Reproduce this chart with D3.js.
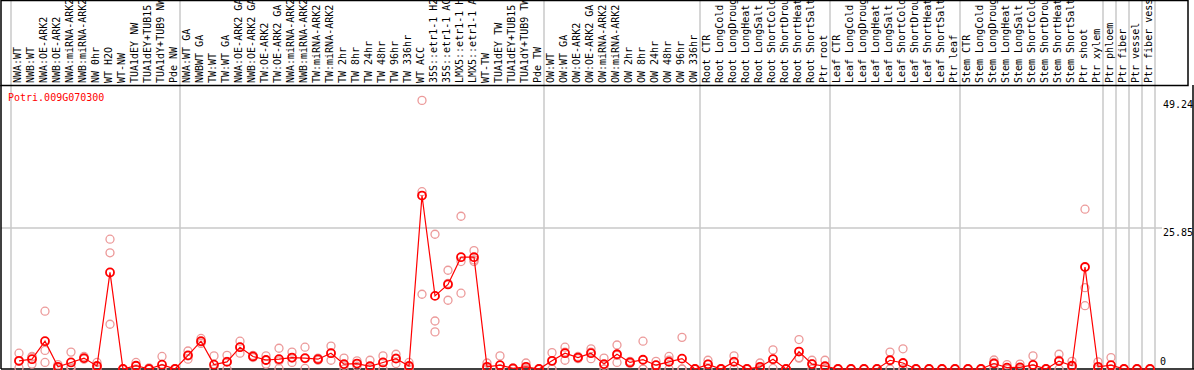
<!DOCTYPE html>
<html>
<head>
<meta charset="utf-8">
<script src="https://cdn.jsdelivr.net/npm/d3@7"></script>
<style>
  html, body { margin: 0; padding: 0; background: #fff; overflow: hidden; }
  svg { display: block; }
  text { font-family: "DejaVu Sans Mono", monospace; font-size: 10px; }
</style>
</head>
<body>
<div class="chart-container"></div>
<script>
// Data: gene, sample labels, groups, values
const geneId = 'Potri.009G070300';

const sampleLabels = [
    'NWA:WT', 'NWB:WT', 'NWA:OE-ARK2', 'NWB:OE-ARK2', 'NWA:miRNA-ARK2', 'NWB:miRNA-ARK2',
    'NW 0hr', 'WT H2O', 'WT-NW', 'TUA1dEY NW', 'TUA1dEY+TUB15', 'TUA1dY+TUB9 NW', 'Pde NW',
    'NWA:WT GA', 'NWBWT GA', 'TW:WT', 'TW:WT GA', 'NWA:OE-ARK2 GA', 'NWB:OE-ARK2 GA',
    'TW:OE-ARK2', 'TW:OE-ARK2 GA', 'NWA:miRNA-ARK2', 'NWB:miRNA-ARK2', 'TW:miRNA-ARK2',
    'TW:miRNA-ARK2', 'TW 2hr', 'TW 8hr', 'TW 24hr', 'TW 48hr', 'TW 96hr', 'TW 336hr',
    'WT ACC', '35S::etr1-1 H2O', '35S::etr1-1 ACC', 'LMX5::etr1-1 H2O', 'LMX5::etr1-1 ACC',
    'WT-TW', 'TUA1dEY TW', 'TUA1dEY+TUB15', 'TUA1dY+TUB9 TW', 'Pde TW',
    'OW:WT', 'OW:WT GA', 'OW:OE-ARK2', 'OW:OE-ARK2 GA', 'OW:miRNA-ARK2', 'OW:miRNA-ARK2',
    'OW 2hr', 'OW 8hr', 'OW 24hr', 'OW 48hr', 'OW 96hr', 'OW 336hr',
    'Root CTR', 'Root LongCold', 'Root LongDrought', 'Root LongHeat', 'Root LongSalt',
    'Root ShortCold', 'Root ShortDrought', 'Root ShortHeat', 'Root ShortSalt', 'Ptr root',
    'Leaf CTR', 'Leaf LongCold', 'Leaf LongDrought', 'Leaf LongHeat', 'Leaf LongSalt',
    'Leaf ShortCold', 'Leaf ShortDrought', 'Leaf ShortHeat', 'Leaf ShortSalt', 'Ptr leaf',
    'Stem CTR', 'Stem LongCold', 'Stem LongDrought', 'Stem LongHeat', 'Stem LongSalt',
    'Stem ShortCold', 'Stem ShortDrought', 'Stem ShortHeat', 'Stem ShortSalt', 'Ptr shoot',
    'Ptr xylem', 'Ptr phloem', 'Ptr fiber', 'Ptr vessel', 'Ptr fiber vessel'
];

// number of samples in each group (grey separators between them)
const groupSizes = [13, 28, 12, 10, 10, 11, 1, 1, 1, 1];

const meanValues = [
    1.5, 1.8, 5.1, 0.4, 1.2, 2.0, 0.55, 17.7, 0, 0.6, 0, 0.8, 0,
    2.5, 5.1, 0.8, 1.3, 4.0, 2.3, 1.65, 1.8, 2.1, 2.0, 1.8, 2.9, 0.9, 1.0, 0.5, 1.2, 1.9, 0.55,
    31.8, 13.4, 15.5, 20.5, 20.5, 0.4, 0.7, 0.1, 0.4, 0,
    1.5, 2.9, 2.1, 2.9, 0.9, 2.7, 1.2, 1.7, 0.7, 1.3, 1.9, 0,
    0.85, 0, 1.3, 0, 0.4, 1.8, 0, 3.2, 0.9, 0.5,
    0, 0, 0, 0, 1.6, 1.1, 0, 0, 0, 0,
    0, 0, 1.0, 0.25, 0.3, 0.75, 0, 1.45, 0.6, 18.7, 0.4,
    0.7, 0, 0, 0
];

const rep1 = [
    2.9, 2.3, 10.6, 0.8, 3.1, 2.3, 1.2, 23.8, 0, 1.2, 0.2, 2.3, 0,
    3.3, 5.6, 2.4, 2.5, 5.1, 2.5, 2.4, 3.8, 3.1, 4.0, 2.0, 4.2, 2.0, 1.5, 1.6, 2.4, 2.7, 1.2,
    49.24, 24.7, 18.1, 28.0, 21.7, 1.1, 2.4, 0.2, 1.1, 0,
    3.0, 4.0, 2.3, 3.7, 2.0, 4.4, 1.4, 5.1, 1.4, 2.3, 5.8, 0,
    1.6, 0, 2.4, 0, 1.1, 3.5, 0, 5.4, 1.6, 1.6,
    0, 0, 0, 0, 3.1, 3.7, 0, 0, 0, 0,
    0, 0, 1.65, 0.8, 0.9, 2.4, 0, 2.7, 1.4, 29.3, 1.3,
    2.1, 0, 0, 0
];

const rep2 = [
    1.4, 2.2, 3.4, 0.3, 0.4, 1.9, 0.4, 21.3, 0, 0.6, 0, 0.1, 0,
    2.4, 5.0, 0, 1.4, 4.0, 2.3, 1.6, 1.5, 2.0, 1.9, 1.8, 2.9, 0.7, 1.0, 0, 1.2, 2.0, 0.4,
    32.5, 8.8, 15.7, 19.7, 20.0, 0.1, 0, 0, 0, 0,
    1.4, 3.1, 2.1, 3.1, 0.7, 2.5, 1.2, 0, 0.7, 1.6, 0, 0,
    0.9, 0, 1.4, 0, 0.1, 1.8, 0, 2.1, 1.0, 0,
    0, 0, 0, 0, 1.6, 0, 0, 0, 0, 0,
    0, 0, 1.2, 0, 0, 0, 0, 1.6, 0.4, 14.9, 0,
    0, 0, 0, 0
];

const rep3 = [
    0.2, 0.9, 1.2, 0, 0.1, 1.8, 0, 8.2, 0, 0, 0, 0, 0,
    1.8, 4.7, 0, 0, 2.9, 2.1, 0.9, 0.1, 1.2, 0.1, 1.6, 1.6, 0, 0.5, 0, 0, 1.0, 0,
    13.7, 6.8, 12.6, 13.9, 19.7, 0, 0, 0, 0, 0,
    0, 1.6, 1.9, 1.9, 0, 1.2, 1.0, 0, 0, 0, 0, 0,
    0, 0, 0, 0, 0, 0.1, 0, 2.0, 0, 0,
    0, 0, 0, 0, 0, 0, 0, 0, 0, 0,
    0, 0, 0.2, 0, 0, 0, 0, 0, 0, 11.6, 0,
    0, 0, 0, 0
];

// tick labels on the right side
const axisTicks = [0, 25.85, 49.24];

const makeExpressionChart = (cls) => {
    const svgWidth = 1194;
    const svgHeight = 370;
    const headerBottom = 85;
    const plotBottom = 369;

    const svg = d3.select(`.${cls}`).append("svg")
        .attr("width", svgWidth)
        .attr("height", svgHeight);

    // X: one band per sample
    const x = d3.scaleBand()
        .domain(sampleLabels.map((d, i) => i))
        .range([11, 1155]);
    const cx = i => x(i) + x.bandwidth() / 2 + 1.5;

    // Y: expression value
    const y = d3.scaleLinear()
        .domain([0, 49.24])
        .range([plotBottom, 100.4]);

    // group separators
    const boundaries = [0];
    groupSizes.forEach(n => boundaries.push(boundaries[boundaries.length - 1] + n));
    svg.append("g")
        .selectAll("line")
        .data(boundaries)
        .enter()
        .append("line")
        .attr("x1", d => d < sampleLabels.length ? x(d) : x.range()[1])
        .attr("x2", d => d < sampleLabels.length ? x(d) : x.range()[1])
        .attr("y1", 0)
        .attr("y2", plotBottom)
        .attr("stroke", "#c8c8c8")
        .attr("stroke-width", 1.5);

    // horizontal grid line at the middle tick
    svg.append("line")
        .attr("x1", 1)
        .attr("x2", 1162)
        .attr("y1", y(axisTicks[1]))
        .attr("y2", y(axisTicks[1]))
        .attr("stroke", "#c8c8c8")
        .attr("stroke-width", 1.5);

    // frame
    svg.append("rect")
        .attr("x", 1)
        .attr("y", 0.5)
        .attr("width", 1187)
        .attr("height", headerBottom)
        .attr("fill", "none")
        .attr("stroke", "#000")
        .attr("stroke-width", 1.5);
    svg.append("line")
        .attr("x1", 1).attr("x2", 1).attr("y1", headerBottom).attr("y2", plotBottom)
        .attr("stroke", "#000").attr("stroke-width", 1.5);
    svg.append("line")
        .attr("x1", 1193).attr("x2", 1193).attr("y1", headerBottom).attr("y2", plotBottom)
        .attr("stroke", "#000").attr("stroke-width", 1.5);
    svg.append("line")
        .attr("x1", 1).attr("x2", 1194).attr("y1", plotBottom).attr("y2", plotBottom)
        .attr("stroke", "#000").attr("stroke-width", 1.5);

    // sample labels (rotated)
    svg.append("g")
        .selectAll("text")
        .data(sampleLabels)
        .enter()
        .append("text")
        .attr("transform", (d, i) => `translate(${cx(i) + 1.5},83) rotate(-90)`)
        .attr("fill", "#000")
        .text(d => d);

    // gene name
    svg.append("text")
        .attr("x", 8)
        .attr("y", 101)
        .attr("fill", "#ff0000")
        .text(geneId);

    // right tick labels
    svg.append("g")
        .selectAll("text")
        .data(axisTicks)
        .enter()
        .append("text")
        .attr("x", d => d === 0 ? 1160 : 1163)
        .attr("y", d => d === 0 ? y(d) - 4 : y(d) + 8)
        .attr("fill", "#000")
        .text(d => d);

    // replicate points
    const reps = [];
    [rep1, rep2, rep3].forEach(arr => arr.forEach((v, i) => reps.push({ i: i, v: v })));
    svg.append("g")
        .selectAll("circle")
        .data(reps)
        .enter()
        .append("circle")
        .attr("cx", d => cx(d.i))
        .attr("cy", d => y(d.v))
        .attr("r", 4)
        .attr("fill", "none")
        .attr("stroke", "#ec9a9a")
        .attr("stroke-width", 1.3);

    // mean line
    const line = d3.line()
        .x((d, i) => cx(i))
        .y(d => y(d));
    svg.append("path")
        .datum(meanValues)
        .attr("d", line)
        .attr("fill", "none")
        .attr("stroke", "#ff0000")
        .attr("stroke-width", 1.2);

    // mean points
    svg.append("g")
        .selectAll("circle")
        .data(meanValues)
        .enter()
        .append("circle")
        .attr("cx", (d, i) => cx(i))
        .attr("cy", d => y(d))
        .attr("r", 4)
        .attr("fill", "none")
        .attr("stroke", "#ff0000")
        .attr("stroke-width", 1.8);
};

window.addEventListener("DOMContentLoaded", () => {
    makeExpressionChart("chart-container");
});
</script>
</body>
</html>
